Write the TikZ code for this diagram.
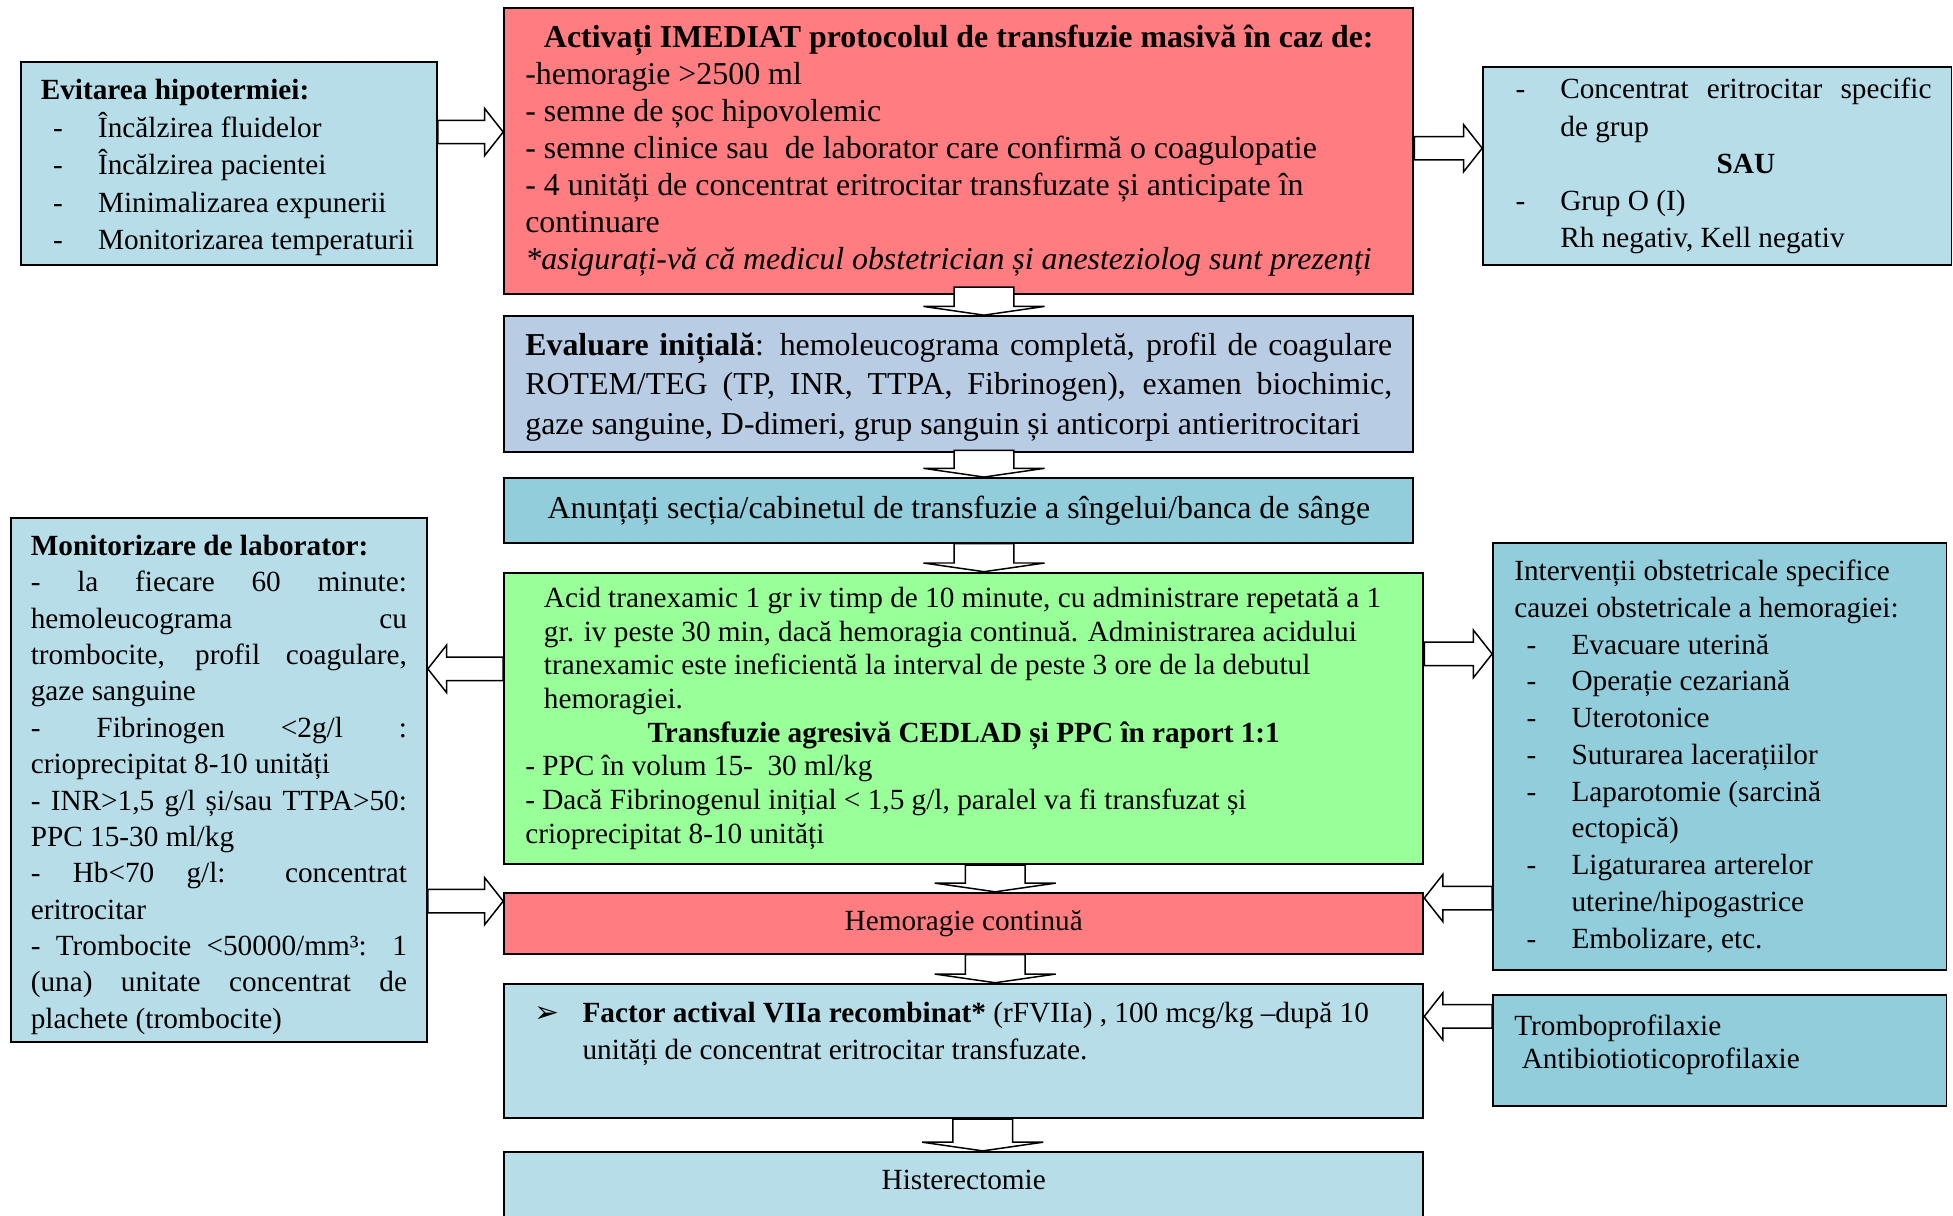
\documentclass[tikz,border=0pt]{standalone}
\usepackage{fontspec}
\setmainfont{Liberation Serif}
\newfontfamily\symbolfont{DejaVu Sans}
\usetikzlibrary{calc}
\setlength{\parindent}{0pt}

\definecolor{paleblue}{HTML}{B7DDE8}
\definecolor{alarmred}{HTML}{FF7C80}
\definecolor{lavender}{HTML}{B8CCE4}
\definecolor{tealblue}{HTML}{92CDDC}
\definecolor{mintgreen}{HTML}{99FF99}

\newcommand{\dashline}[1]{\makebox[23pt][l]{\hspace{5pt}-}#1\par}
\newcommand{\contline}[1]{\hspace*{23pt}#1\par}
\newcommand{\fullline}[1]{\makebox[\linewidth][s]{#1}\par}

% block arrow: shaft half width, head half width, head length, from, to
\newcommand{\blockarrow}[5]{%
  \draw[arrowbody] ($(#4)!#1!90:(#5)$)
    -- ($($(#5)!#3!(#4)$)!#1!90:(#5)$)
    -- ($($(#5)!#3!(#4)$)!#2!90:(#5)$)
    -- (#5)
    -- ($($(#5)!#3!(#4)$)!#2!-90:(#5)$)
    -- ($($(#5)!#3!(#4)$)!#1!-90:(#5)$)
    -- ($(#4)!#1!-90:(#5)$) -- cycle;}
\newcommand{\harrow}[2]{\blockarrow{4.7pt}{9.5pt}{7.5pt}{#1}{#2}}
\newcommand{\varrow}[2]{\blockarrow{12pt}{24.3pt}{3.5pt}{#1}{#2}}

\tikzset{
  box/.style={draw=black, line width=0.75pt, rectangle, anchor=north west,
    inner xsep=8.5pt, inner ysep=0pt, align=left,
    execute at begin node={\spaceskip=0pt\xspaceskip=0pt}},
  bigtext/.style={font=\fontsize{12.8}{#1}\selectfont},
  smalltext/.style={font=\fontsize{11.75}{#1}\selectfont},
  arrowbody/.style={draw=black, fill=white, line width=0.6pt, line join=miter},
}

\begin{document}
\begin{tikzpicture}[x=0.5pt, y=-0.5pt]
\useasboundingbox (0,0) rectangle (1568,976);

% left column
\node[box, fill=paleblue, inner xsep=8pt, minimum width=167pt, minimum height=81.5pt,
  text width=151pt, smalltext=15pt] (evit) at (16,49)
  {\rule{0pt}{11.5pt}\textbf{Evitarea hipotermiei:}\par
   \dashline{Încălzirea fluidelor}
   \dashline{Încălzirea pacientei}
   \dashline{Minimalizarea expunerii}
   \dashline{Monitorizarea temperaturii}};

\node[box, fill=paleblue, inner xsep=8pt, minimum width=167pt, minimum height=210.5pt,
  text width=151pt, smalltext=14.6pt] (lab) at (8,415)
  {\rule{0pt}{12pt}\textbf{Monitorizare de laborator:}\par
   \fullline{- la fiecare 60 minute:}
   \fullline{hemoleucograma cu}
   \fullline{trombocite, profil coagulare,}
   gaze sanguine\par
   \fullline{- Fibrinogen <2g/l :}
   crioprecipitat 8-10 unități\par
   \fullline{- INR>1,5 g/l și/sau TTPA>50:}
   PPC 15-30 ml/kg\par
   \fullline{- Hb<70 g/l: concentrat}
   eritrocitar\par
   \fullline{- Trombocite <50000/mm³: 1}
   \fullline{(una) unitate concentrat de}
   plachete (trombocite)};

% middle column
\node[box, fill=alarmred, minimum width=365pt, minimum height=114.5pt,
  text width=348pt, bigtext=14.85pt] (act) at (404,6)
  {{\centering\textbf{Activați IMEDIAT protocolul de transfuzie masivă în caz de:}\par}
   -hemoragie >2500 ml\par
   - semne de șoc hipovolemic\par
   - semne clinice sau\ \ de laborator care confirmă o coagulopatie\par
   - 4 unități de concentrat eritrocitar transfuzate și anticipate în\par
   continuare\par
   \textit{*asigurați-vă că medicul obstetrician și anesteziolog sunt prezenți}};

\node[box, fill=lavender, minimum width=365pt, minimum height=54.5pt,
  text width=348pt, bigtext=15.75pt] (eval) at (404,253)
  {\fullline{\rule{0pt}{11.5pt}\textbf{Evaluare inițială}: hemoleucograma completă, profil de coagulare}
   \fullline{ROTEM/TEG (TP, INR, TTPA, Fibrinogen), examen biochimic,}
   gaze sanguine, D-dimeri, grup sanguin și anticorpi antieritrocitari};

\node[box, fill=tealblue, minimum width=365pt, minimum height=26pt,
  text width=348pt, align=flush center, bigtext=15pt] (anunt) at (404,383)
  {Anunțați secția/cabinetul de transfuzie a sîngelui/banca de sânge};

\node[box, fill=mintgreen, minimum width=369pt, minimum height=117pt,
  text width=352pt, smalltext=13.5pt] (acid) at (404,459)
  {{\leftskip=7.5pt
    Acid tranexamic 1 gr iv timp de 10 minute, cu administrare repetată a 1\par
    gr. iv peste 30 min, dacă hemoragia continuă. Administrarea acidului\par
    tranexamic este ineficientă la interval de peste 3 ore de la debutul\par
    hemoragiei.\par}
   {\centering\textbf{Transfuzie agresivă CEDLAD și PPC în raport 1:1}\par}
   - PPC în volum 15-\ \ 30 ml/kg\par
   - Dacă Fibrinogenul inițial < 1,5 g/l, paralel va fi transfuzat și\par
   crioprecipitat 8-10 unități};

\node[box, fill=alarmred, minimum width=369pt, minimum height=24.5pt,
  text width=352pt, align=flush center, smalltext=14pt] (hemo) at (404,716)
  {Hemoragie continuă};

\node[box, fill=paleblue, minimum width=369pt, minimum height=54pt,
  text width=352pt, smalltext=15pt] (factor) at (404,789)
  {\makebox[23pt][l]{\hspace{3.5pt}{\symbolfont\fontsize{12}{12}\selectfont ➢}}\textbf{Factor actival VIIa recombinat*} (rFVIIa) , 100 mcg/kg –după 10\par
   \contline{unități de concentrat eritrocitar transfuzate.\rule[-16pt]{0pt}{0pt}}};

\node[box, fill=paleblue, minimum width=369pt, inner ysep=7.5pt,
  text width=352pt, align=flush center, smalltext=14pt] (hister) at (404,924)
  {Histerectomie\rule[-40pt]{0pt}{0pt}};

% right column
\node[box, fill=paleblue, inner xsep=8pt, minimum width=188pt, minimum height=79.5pt,
  text width=172pt, smalltext=14.9pt] (grp) at (1190,53)
  {\makebox[23pt][l]{\hspace{5pt}-}\makebox[\dimexpr\linewidth-23pt][s]{Concentrat eritrocitar specific}\par
   \contline{de grup}
   \contline{\makebox[\dimexpr\linewidth-23pt]{\textbf{SAU}}}
   \dashline{Grup O (I)}
   \contline{Rh negativ, Kell negativ}};

\node[box, fill=tealblue, minimum width=182pt, minimum height=171.5pt,
  text width=165pt, smalltext=14.75pt] (interv) at (1198,435)
  {Intervenții obstetricale specifice\par
   cauzei obstetricale a hemoragiei:\par
   \dashline{Evacuare uterină}
   \dashline{Operație cezariană}
   \dashline{Uterotonice}
   \dashline{Suturarea lacerațiilor}
   \dashline{Laparotomie (sarcină}
   \contline{ectopică)}
   \dashline{Ligaturarea arterelor}
   \contline{uterine/hipogastrice}
   \dashline{Embolizare, etc.}};

\node[box, fill=tealblue, minimum width=182pt, minimum height=44.5pt,
  text width=165pt, smalltext=13.5pt] (prof) at (1198,798)
  {Tromboprofilaxie\par
   \hspace*{3pt}Antibiotioticoprofilaxie\rule[-7pt]{0pt}{0pt}};

% arrow ends
\coordinate (h1s) at (evit.east |- 0,106);
\coordinate (h1e) at (act.west |- 0,106);
\coordinate (h2s) at (act.east |- 0,119);
\coordinate (h2e) at (grp.west |- 0,119);
\coordinate (h3s) at (acid.west |- 0,537);
\coordinate (h3e) at (lab.east |- 0,537);
\coordinate (h4s) at (lab.east |- 0,723.5);
\coordinate (h4e) at (hemo.west |- 0,723.5);
\coordinate (h5s) at (acid.east |- 0,525);
\coordinate (h5e) at (interv.west |- 0,525);
\coordinate (h6s) at (interv.west |- 0,721);
\coordinate (h6e) at (hemo.east |- 0,721);
\coordinate (h7s) at (prof.west |- 0,816);
\coordinate (h7e) at (factor.east |- 0,816);

\coordinate (v1s) at ($(act.south -| 790,0)+(0,-6)$);
\coordinate (v1e) at (eval.north -| 790,0);
\coordinate (v2s) at ($(eval.south -| 790,0)+(0,-2)$);
\coordinate (v2e) at (anunt.north -| 790,0);
\coordinate (v3s) at (anunt.south -| 790,0);
\coordinate (v3e) at (acid.north -| 790,0);
\coordinate (v4s) at (acid.south -| 799,0);
\coordinate (v4e) at (hemo.north -| 799,0);
\coordinate (v5s) at (hemo.south -| 799,0);
\coordinate (v5e) at (factor.north -| 799,0);
\coordinate (v6s) at (factor.south -| 789,0);
\coordinate (v6e) at (hister.north -| 789,0);

\harrow{h1s}{h1e}
\harrow{h2s}{h2e}
\harrow{h3s}{h3e}
\harrow{h4s}{h4e}
\harrow{h5s}{h5e}
\harrow{h6s}{h6e}
\harrow{h7s}{h7e}

\varrow{v1s}{v1e}
\varrow{v2s}{v2e}
\varrow{v3s}{v3e}
\varrow{v4s}{v4e}
\varrow{v5s}{v5e}
\varrow{v6s}{v6e}

\end{tikzpicture}
\end{document}
